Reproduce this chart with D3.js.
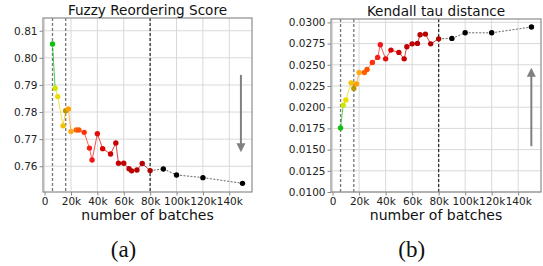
<!DOCTYPE html>
<html>
<head>
<meta charset="utf-8">
<script src="https://cdn.jsdelivr.net/npm/d3@7"></script>
<style>
  body { margin: 0; background: #fff; }
  text { font-family: "DejaVu Sans", sans-serif; }
</style>
</head>
<body>
<div id="chart"></div>
<script>
// training checkpoints (number of batches)
var batches = [6000, 8000, 10000, 14000, 16000, 18000, 20000, 24000, 26000, 30000, 34000, 36000,
    40000, 44000, 50000, 54000, 56000, 60000, 64000, 66000, 70000, 74000, 80000,
    90000, 100000, 120000, 150000];

var fuzzyScore = [0.8051, 0.7888, 0.7857, 0.7749, 0.7805, 0.7811, 0.7728, 0.7734, 0.7734, 0.7725,
    0.7667, 0.7623, 0.7720, 0.7665, 0.7645, 0.7686, 0.7611, 0.7611, 0.7591, 0.7583, 0.7586,
    0.7610, 0.7584, 0.7590, 0.7568, 0.7558, 0.7537];

var kendallTau = [0.01756, 0.02024, 0.02086, 0.02287, 0.02221, 0.02275, 0.02410, 0.02410, 0.02445,
    0.02528, 0.02587, 0.02736, 0.02570, 0.02673, 0.02646, 0.02570, 0.02712, 0.02747, 0.02752,
    0.02854, 0.02862, 0.02747, 0.02806, 0.02811, 0.02877, 0.02877, 0.02945];

var phaseLines = [6000, 16000, 80000];
var xTicks = [0, 20000, 40000, 60000, 80000, 100000, 120000, 140000];
var xTickLabels = ["0", "20k", "40k", "60k", "80k", "100k", "120k", "140k"];
var fuzzyTicks = [0.76, 0.77, 0.78, 0.79, 0.80, 0.81];
var fuzzyTickLabels = ["0.76", "0.77", "0.78", "0.79", "0.80", "0.81"];
var tauTicks = [0.0100, 0.0125, 0.0150, 0.0175, 0.0200, 0.0225, 0.0250, 0.0275, 0.0300];
var tauTickLabels = ["0.0100", "0.0125", "0.0150", "0.0175", "0.0200", "0.0225", "0.0250", "0.0275", "0.0300"];

// colour of each checkpoint: green -> yellow -> orange -> red, black after 80k
var stageColor = d3.scaleLinear()
    .domain([6000, 8000, 10000, 14000, 16000, 18000, 20000, 24000, 30000, 36000, 44000, 56000, 80000])
    .range(["#10c010", "#d0e400", "#ecdc00", "#f4c000", "#b89800", "#ffa000", "#ffa820",
            "#ff6400", "#ff3010", "#f01818", "#dc0000", "#c00000", "#b00000"])
    .clamp(true);
function pointColor(x) { return x > 80000 ? "#000" : stageColor(x); }

var svg = d3.select("#chart").append("svg")
    .attr("width", 543)
    .attr("height", 266);

function drawPanel(cfg) {
    var x = d3.scaleLinear().domain([-1200, 157200]).range([0, cfg.w]);
    var y = d3.scaleLinear().domain(cfg.yDomain).range([cfg.h, 0]);

    var g = svg.append("g")
        .attr("transform", "translate(" + cfg.left + "," + cfg.top + ")");

    // grid
    g.selectAll(".gx").data(xTicks).enter().append("line")
        .attr("x1", function(d) { return x(d); })
        .attr("x2", function(d) { return x(d); })
        .attr("y1", 0).attr("y2", cfg.h)
        .style("stroke", "#d9d9d9").style("stroke-width", 1);
    g.selectAll(".gy").data(cfg.yTicks).enter().append("line")
        .attr("x1", 0).attr("x2", cfg.w)
        .attr("y1", function(d) { return y(d); })
        .attr("y2", function(d) { return y(d); })
        .style("stroke", "#d9d9d9").style("stroke-width", 1);

    // phase separators
    g.selectAll(".phase").data(phaseLines).enter().append("line")
        .attr("x1", function(d) { return x(d); })
        .attr("x2", function(d) { return x(d); })
        .attr("y1", 0).attr("y2", cfg.h)
        .style("stroke", function(d) { return d === 80000 ? "#333" : "#777"; })
        .style("stroke-width", 1.3)
        .style("stroke-dasharray", "3,2");

    // axes
    var xAxis = d3.axisBottom(x).tickValues(xTicks).tickSize(3.5).tickPadding(2)
        .tickFormat(function(d, i) { return xTickLabels[i]; });
    var yAxis = d3.axisLeft(y).tickValues(cfg.yTicks).tickSize(3.5).tickPadding(2)
        .tickFormat(function(d, i) { return cfg.yTickLabels[i]; });

    var gx = g.append("g").attr("transform", "translate(0," + cfg.h + ")").call(xAxis);
    var gy = g.append("g").call(yAxis);
    [gx, gy].forEach(function(a) {
        a.select(".domain").remove();
        a.selectAll(".tick line").style("stroke", "#888");
        a.selectAll(".tick text")
            .style("font-size", "10.5px")
            .style("fill", "#222")
            .style("font-family", "DejaVu Sans, sans-serif");
    });

    // frame
    g.append("rect")
        .attr("width", cfg.w).attr("height", cfg.h)
        .style("fill", "none").style("stroke", "#8c8c8c").style("stroke-width", 1.2);

    // line segments
    var pts = batches.map(function(b, i) { return {x: b, v: cfg.values[i]}; });
    var segs = d3.pairs(pts);
    g.selectAll(".seg").data(segs).enter().append("line")
        .attr("x1", function(d) { return x(d[0].x); })
        .attr("y1", function(d) { return y(d[0].v); })
        .attr("x2", function(d) { return x(d[1].x); })
        .attr("y2", function(d) { return y(d[1].v); })
        .style("stroke", function(d) { return d[0].x >= 80000 ? "#555" : pointColor(d[0].x); })
        .style("stroke-opacity", function(d) { return d[0].x >= 80000 ? 0.9 : 0.75; })
        .style("stroke-width", 1)
        .style("stroke-dasharray", function(d) { return d[0].x >= 80000 ? "2,1.5" : null; });

    // markers
    g.selectAll(".pt").data(pts).enter().append("circle")
        .attr("cx", function(d) { return x(d.x); })
        .attr("cy", function(d) { return y(d.v); })
        .attr("r", 2.7)
        .style("fill", function(d) { return pointColor(d.x); });

    // trend arrow
    var ax = x(cfg.arrow.x), ay0 = y(cfg.arrow.from), ay1 = y(cfg.arrow.to);
    var dir = ay1 > ay0 ? 1 : -1;
    g.append("line")
        .attr("x1", ax).attr("x2", ax)
        .attr("y1", ay0).attr("y2", ay1 - dir * 8)
        .style("stroke", "#808080").style("stroke-width", 2);
    g.append("path")
        .attr("d", "M" + (ax - 4.5) + "," + (ay1 - dir * 9) + "L" + (ax + 4.5) + "," + (ay1 - dir * 9) + "L" + ax + "," + ay1 + "Z")
        .style("fill", "#808080");

    // title and labels
    g.append("text")
        .attr("x", cfg.w / 2).attr("y", -3.5)
        .attr("text-anchor", "middle")
        .style("font-size", "13.6px")
        .style("fill", "#111")
        .text(cfg.title);
    g.append("text")
        .attr("x", cfg.w / 2).attr("y", cfg.h + 28)
        .attr("text-anchor", "middle")
        .style("font-size", "14px")
        .style("fill", "#111")
        .text("number of batches");

    svg.append("text")
        .attr("x", cfg.tagX).attr("y", 257)
        .attr("text-anchor", "middle")
        .style("font-family", "Liberation Serif, serif")
        .style("font-size", "23px")
        .style("fill", "#111")
        .text(cfg.tag);
}

drawPanel({
    left: 43, top: 18, w: 209, h: 174,
    yDomain: [0.7505, 0.8147],
    yTicks: fuzzyTicks, yTickLabels: fuzzyTickLabels,
    values: fuzzyScore,
    title: "Fuzzy Reordering Score",
    tag: "(a)", tagX: 123.5,
    arrow: {x: 148800, from: 0.7937, to: 0.7652}
});

drawPanel({
    left: 331, top: 19, w: 210, h: 173,
    yDomain: [0.0100, 0.0304],
    yTicks: tauTicks, yTickLabels: tauTickLabels,
    values: kendallTau,
    title: "Kendall tau distance",
    tag: "(b)", tagX: 411.7,
    arrow: {x: 149900, from: 0.0154, to: 0.02464}
});
</script>
</body>
</html>
